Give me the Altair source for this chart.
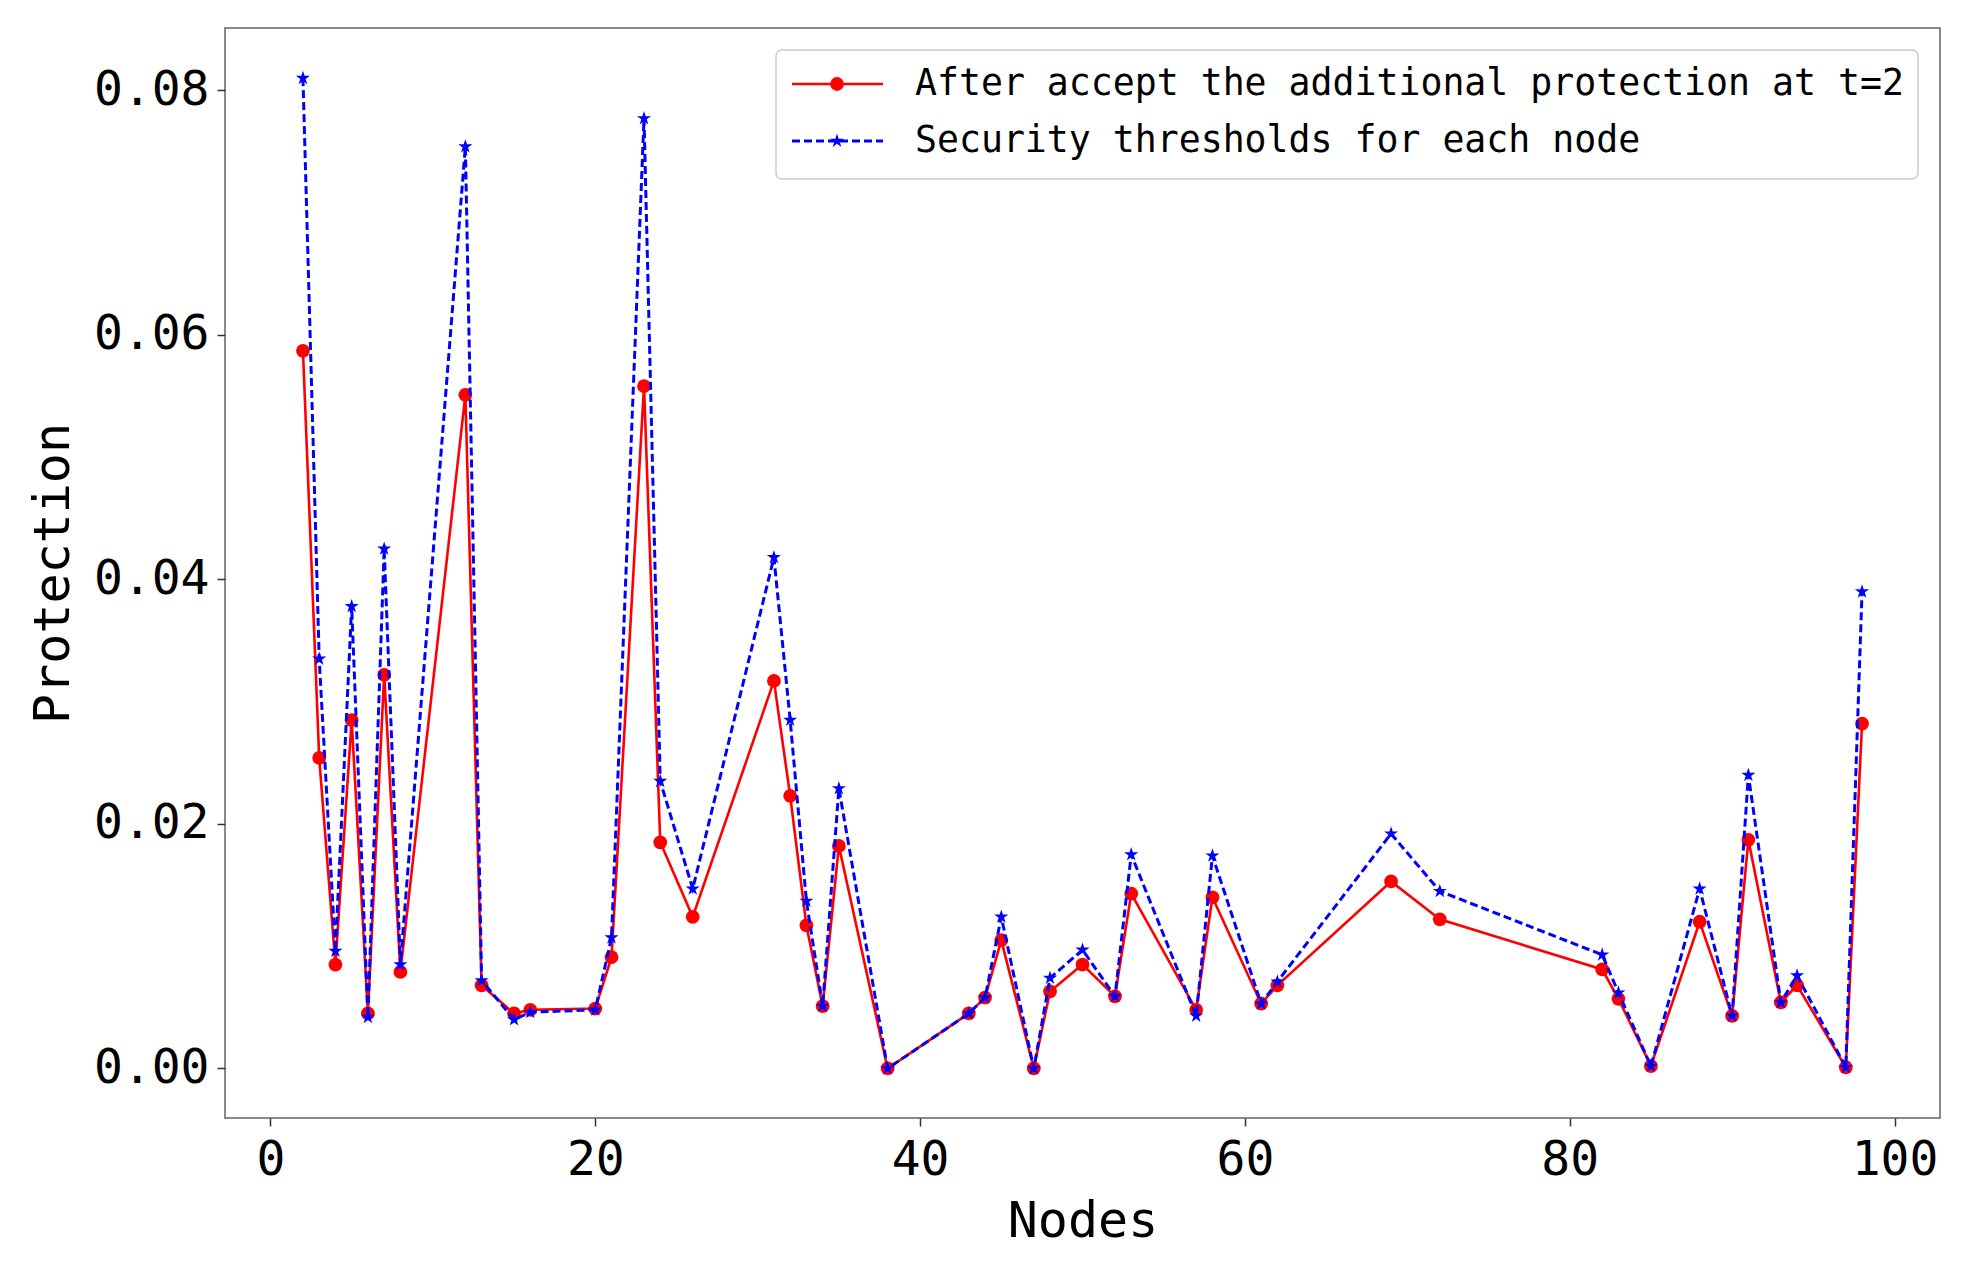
import altair as alt
import pandas as pd

nodes = [2, 3, 4, 5, 6, 7, 8, 12, 13, 15, 16, 20, 21, 23, 24, 26, 31, 32, 33, 34, 35,
         38, 43, 44, 45, 47, 48, 50, 52, 53, 57, 58, 61, 62, 69, 72, 82, 83, 85, 88,
         90, 91, 93, 94, 97, 98]
after = [0.0587, 0.0254, 0.0085, 0.0285, 0.0045, 0.0322, 0.0079, 0.0551, 0.0068, 0.0045,
         0.0048, 0.0049, 0.0091, 0.0558, 0.0185, 0.0124, 0.0317, 0.0223, 0.0117, 0.0051,
         0.0182, 0.0000, 0.0045, 0.0058, 0.0105, 0.0000, 0.0063, 0.0085, 0.0059, 0.0143,
         0.0048, 0.0140, 0.0053, 0.0068, 0.0153, 0.0122, 0.0081, 0.0057, 0.0002, 0.0120,
         0.0043, 0.0187, 0.0054, 0.0068, 0.0001, 0.0282]
threshold = [0.0810, 0.0335, 0.0096, 0.0378, 0.0042, 0.0425, 0.0085, 0.0754, 0.0072, 0.0040,
             0.0046, 0.0048, 0.0107, 0.0777, 0.0235, 0.0147, 0.0418, 0.0285, 0.0137, 0.0051,
             0.0229, 0.0000, 0.0045, 0.0058, 0.0124, 0.0000, 0.0074, 0.0097, 0.0059, 0.0175,
             0.0043, 0.0174, 0.0053, 0.0071, 0.0192, 0.0145, 0.0093, 0.0062, 0.0002, 0.0147,
             0.0043, 0.0240, 0.0054, 0.0076, 0.0001, 0.0390]
legend_labels = ["After accept the additional protection at t=2",
                 "Security thresholds for each node"]
x_ticks = [0, 20, 40, 60, 80, 100]
y_ticks = [0.0, 0.02, 0.04, 0.06, 0.08]

RED = "#ff0000"
BLUE = "#0000ff"
FONT = "DejaVu Sans Mono"
STAR = ("M0,-1L0.2245,-0.309L0.951,-0.309L0.3633,0.118L0.5878,0.809L0,0.382"
        "L-0.5878,0.809L-0.3633,0.118L-0.951,-0.309L-0.2245,-0.309Z")

df_a = pd.DataFrame({"node": nodes, "value": after})
df_t = pd.DataFrame({"node": nodes, "value": threshold})

xs = alt.Scale(domain=[-2.8, 102.8], nice=False, zero=False)
ys = alt.Scale(domain=[-0.00405, 0.0851], nice=False, zero=False)

x_enc = alt.X("node:Q", scale=xs,
              axis=alt.Axis(orient="bottom", values=x_ticks, title="Nodes", format="d",
                            labelPadding=10, titleY=118, titleBaseline="alphabetic"))
y_enc = alt.Y("value:Q", scale=ys,
              axis=alt.Axis(orient="left", values=y_ticks, title="Protection", format=".2f",
                            labelPadding=8, titleX=-172, titleY=545, titleAngle=270,
                            titleAlign="center", titleBaseline="middle"))

red_line = alt.Chart(df_a).mark_line(
    color=RED, strokeWidth=2.6, point=alt.OverlayMarkDef(
        filled=True, shape="circle", size=190, color=RED, opacity=1)
).encode(x=x_enc, y=y_enc)
blue_line = alt.Chart(df_t).mark_line(
    color=BLUE, strokeWidth=3, strokeDash=[8, 4], point=alt.OverlayMarkDef(
        filled=True, shape=STAR, size=220, color=BLUE, opacity=1)
).encode(x=x_enc, y=y_enc)

# Legend (decoration drawn inside the plot area, matplotlib style)
leg = pd.DataFrame({"label": legend_labels, "row": [0, 1]})
leg_base = alt.Chart(leg)
leg_box = alt.Chart(pd.DataFrame({"k": [0]})).mark_rect(
    fill="white", fillOpacity=0.85, stroke="#cccccc", strokeWidth=1.5, cornerRadius=6
).encode(x=alt.value(551), x2=alt.value(1693), y=alt.value(22), y2=alt.value(151))
leg_red_line = leg_base.transform_filter("datum.row == 0").mark_rule(
    color=RED, strokeWidth=2.6).encode(x=alt.value(567), x2=alt.value(658), y=alt.value(56))
leg_red_pt = leg_base.transform_filter("datum.row == 0").mark_point(
    color=RED, filled=True, shape="circle", size=190, opacity=1
).encode(x=alt.value(612), y=alt.value(56))
leg_blue_line = leg_base.transform_filter("datum.row == 1").mark_rule(
    color=BLUE, strokeWidth=3, strokeDash=[8, 4]
).encode(x=alt.value(567), x2=alt.value(658), y=alt.value(113))
leg_blue_pt = leg_base.transform_filter("datum.row == 1").mark_point(
    color=BLUE, filled=True, shape=STAR, size=220, opacity=1
).encode(x=alt.value(612), y=alt.value(113))
leg_text1 = leg_base.transform_filter("datum.row == 0").mark_text(
    font=FONT, fontSize=36.5, align="left", baseline="middle", color="black"
).encode(x=alt.value(690), y=alt.value(56), text="label:N")
leg_text2 = leg_base.transform_filter("datum.row == 1").mark_text(
    font=FONT, fontSize=36.5, align="left", baseline="middle", color="black"
).encode(x=alt.value(690), y=alt.value(113), text="label:N")

chart = alt.layer(
    red_line, blue_line,
    leg_box, leg_red_line, leg_red_pt, leg_blue_line, leg_blue_pt, leg_text1, leg_text2
).properties(
    width=1715, height=1090,
    autosize=alt.AutoSizeParams(type="none"),
    padding={"left": 217, "top": 20, "right": 15, "bottom": 142},
    background="white",
).configure_view(
    stroke="#888888", strokeWidth=2
).configure_axis(
    grid=False, domain=False, ticks=True, tickColor="#333333", tickSize=8, tickWidth=1.5,
    labelFont=FONT, labelFontSize=48, labelColor="black",
    titleFont=FONT, titleFontSize=50, titleFontWeight="normal", titleColor="black",
)

chart.save("out.html", embed_options={"renderer": "svg", "actions": False})
